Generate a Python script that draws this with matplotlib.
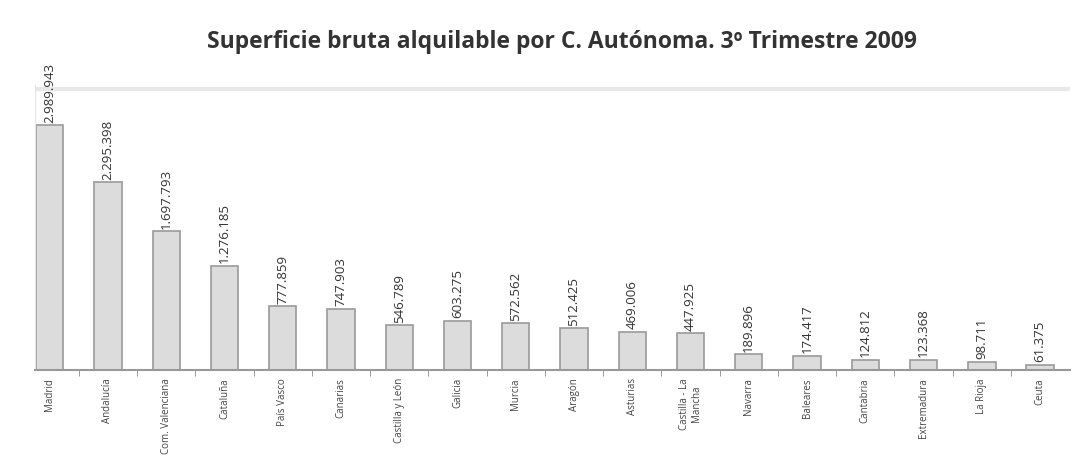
import numpy as np
import matplotlib
matplotlib.use('Agg')
import matplotlib.pyplot as plt

comunidades = ['Madrid', 'Andalucía', 'Com. Valenciana', 'Cataluña', 'País Vasco',
               'Canarias', 'Castilla y León', 'Galicia', 'Murcia', 'Aragón',
               'Asturias', 'Castilla - La\nMancha', 'Navarra', 'Baleares',
               'Cantabria', 'Extremadura', 'La Rioja', 'Ceuta']
sba = [2989943, 2295398, 1697793, 1276185, 777859, 747903, 546789, 603275,
       572562, 512425, 469006, 447925, 189896, 174417, 124812, 123368,
       98711, 61375]
etiquetas = ['2.989.943', '2.295.398', '1.697.793', '1.276.185', '777.859',
             '747.903', '546.789', '603.275', '572.562', '512.425', '469.006',
             '447.925', '189.896', '174.417', '124.812', '123.368', '98.711',
             '61.375']

plt.rcParams['font.family'] = ['Open Sans', 'DejaVu Sans']

fig = plt.figure(figsize=(10.79, 4.70), dpi=100)
ax = fig.add_axes([0.032, 0.213, 0.960, 0.607])

x = np.arange(len(sba))
ax.bar(x, sba, width=0.47, color='#dcdcdc', edgecolor='#9a9a9a', linewidth=1.2, zorder=2)

for xi, v, lab in zip(x, sba, etiquetas):
    ax.text(xi, v + 30000, lab, rotation=90, ha='center', va='bottom',
            fontsize=9.5, color='#333333')

ax.set_xlim(-0.26, 17.52)
ax.set_ylim(0, 3490000)
ax.set_yticks([])
ax.set_xticks(x)
ax.set_xticklabels(comunidades, rotation=90, fontsize=7, color='#444444', va='top')
ax.tick_params(axis='x', length=0, pad=6)
# separadores entre categorias
ax.set_xticks(np.arange(len(sba) - 1) + 0.5, minor=True)
ax.tick_params(axis='x', which='minor', length=4, color='#888888', direction='out')

for s in ['top', 'right']:
    ax.spines[s].set_visible(False)
ax.spines['left'].set_color('#e6e6e6')
ax.spines['bottom'].set_color('#999999')
ax.spines['bottom'].set_linewidth(1.5)
ax.axhline(3490000 * 0.985, color='#e8e8e8', linewidth=3, zorder=0)

fig.text(0.521, 0.91, 'Superficie bruta alquilable por C. Autónoma. 3º Trimestre 2009',
         ha='center', va='center', fontsize=16.5, fontweight='bold', color='#333333')

fig.savefig('out.png', dpi=100)
